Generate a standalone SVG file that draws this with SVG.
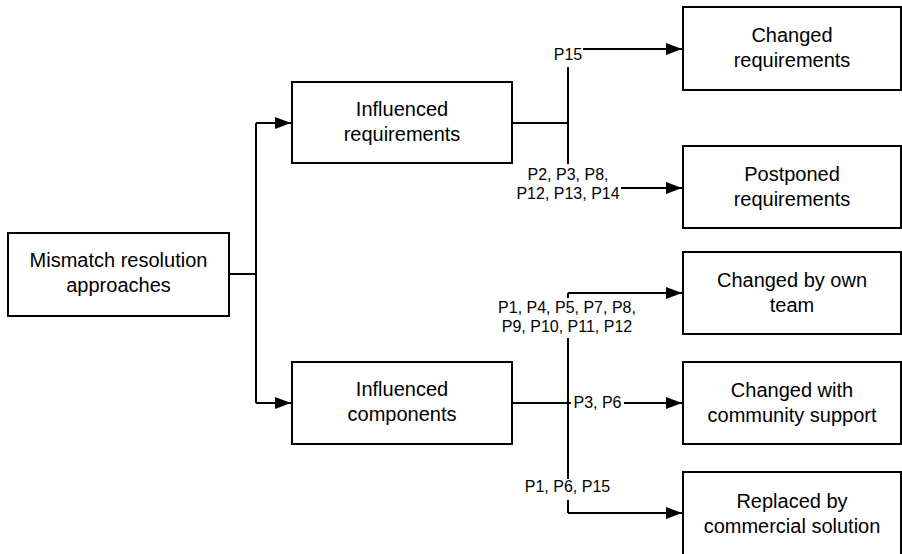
<svg xmlns="http://www.w3.org/2000/svg" width="902" height="554" viewBox="0 0 902 554">
  <style>
    .box { fill: #fff; stroke: #000; stroke-width: 2; }
    .node { font-family: "Liberation Sans", Arial, sans-serif; font-size: 20px; fill: #000; text-anchor: middle; }
    .lbl { font-family: "Liberation Sans", Arial, sans-serif; font-size: 16px; fill: #000; text-anchor: middle; }
    .line { fill: none; stroke: #000; stroke-width: 2; }
    .arrow { fill: none; stroke: #000; stroke-width: 2; marker-end: url(#head); }
    .bg { fill: #fff; }
  </style>
  <defs>
    <marker id="head" viewBox="0 0 16 12" refX="16" refY="6" markerWidth="16" markerHeight="12" markerUnits="userSpaceOnUse" orient="auto">
      <path d="M0 0 L16 6 L0 12 Z" fill="#000"/>
    </marker>
  </defs>
  <rect width="902" height="554" fill="#fff"/>

  <!-- connectors -->
  <g id="connectors">
    <path class="line" d="M229 274 H256 M256 123 V403"/>
    <path class="arrow" d="M256 123 H291"/>
    <path class="arrow" d="M256 403 H291"/>

    <path class="line" d="M512 123 H568 M568 49 V188"/>
    <path class="arrow" d="M568 49 H682"/>
    <path class="arrow" d="M568 188 H682"/>

    <path class="line" d="M568 293 V513"/>
    <path class="arrow" d="M512 403 H682"/>
    <path class="arrow" d="M568 293 H682"/>
    <path class="arrow" d="M568 513 H682"/>

    <!-- edge labels -->
    <rect class="bg" x="552" y="44" width="31" height="23"/>
    <text class="lbl" x="568" y="60">P15</text>
    <rect class="bg" x="515" y="164" width="106" height="40"/>
    <text class="lbl" x="568" y="180">P2, P3, P8,</text>
    <text class="lbl" x="568" y="199">P12, P13, P14</text>
    <rect class="bg" x="495" y="298" width="145" height="40"/>
    <text class="lbl" x="567" y="313">P1, P4, P5, P7, P8,</text>
    <text class="lbl" x="567" y="332">P9, P10, P11, P12</text>
    <rect class="bg" x="571" y="394" width="53" height="18"/>
    <text class="lbl" x="597.5" y="408">P3, P6</text>
    <rect class="bg" x="522" y="479" width="91" height="21"/>
    <text class="lbl" x="567.5" y="492">P1, P6, P15</text>
  </g>

  <g id="root">
    <rect class="box" x="8" y="233" width="221" height="83"/>
    <text class="node" x="118.5" y="267">Mismatch resolution</text>
    <text class="node" x="118.5" y="292">approaches</text>
  </g>

  <g id="influenced-requirements">
    <rect class="box" x="292" y="82" width="220" height="81"/>
    <text class="node" x="402" y="116">Influenced</text>
    <text class="node" x="402" y="141">requirements</text>
  </g>

  <g id="influenced-components">
    <rect class="box" x="292" y="362" width="220" height="82"/>
    <text class="node" x="402" y="396">Influenced</text>
    <text class="node" x="402" y="421">components</text>
  </g>

  <g id="changed-requirements">
    <rect class="box" x="683" y="7" width="218" height="83"/>
    <text class="node" x="792" y="42">Changed</text>
    <text class="node" x="792" y="67">requirements</text>
  </g>

  <g id="postponed-requirements">
    <rect class="box" x="683" y="146" width="218" height="82"/>
    <text class="node" x="792" y="181">Postponed</text>
    <text class="node" x="792" y="206">requirements</text>
  </g>

  <g id="changed-own-team">
    <rect class="box" x="683" y="252" width="218" height="82"/>
    <text class="node" x="792" y="287">Changed by own</text>
    <text class="node" x="792" y="312">team</text>
  </g>

  <g id="changed-community">
    <rect class="box" x="683" y="362" width="218" height="82"/>
    <text class="node" x="792" y="397">Changed with</text>
    <text class="node" x="792" y="422">community support</text>
  </g>

  <g id="replaced-commercial">
    <rect class="box" x="683" y="472" width="218" height="92"/>
    <text class="node" x="792" y="508">Replaced by</text>
    <text class="node" x="792" y="533">commercial solution</text>
  </g>
</svg>
